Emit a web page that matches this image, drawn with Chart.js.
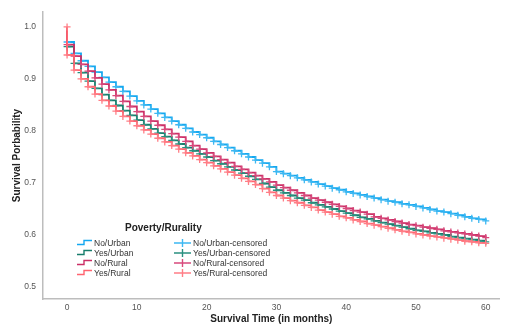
<!DOCTYPE html>
<html>
<head>
<meta charset="utf-8">
<script src="https://cdn.jsdelivr.net/npm/chart.js@4.4.1/dist/chart.umd.min.js"></script>
<style>
  html, body { margin: 0; padding: 0; background: #fff; }
  #wrap { width: 505px; height: 333px; }
</style>
</head>
<body>
<div id="wrap"><canvas id="myChart" width="505" height="333"></canvas></div>
<script>
// survival time in months
const months = [];
for (let m = 0; m <= 60; m++) months.push(m);

const groupNames = ["No/Urban", "Yes/Urban", "No/Rural", "Yes/Rural"];

const noUrban = [0.971, 0.949, 0.935, 0.924, 0.913, 0.903, 0.894, 0.885, 0.876, 0.867,
    0.858, 0.850, 0.842, 0.834, 0.826, 0.819, 0.812, 0.805, 0.798, 0.793,
    0.787, 0.780, 0.774, 0.768, 0.762, 0.756, 0.750, 0.744, 0.738, 0.731,
    0.722, 0.718, 0.714, 0.710, 0.706, 0.702, 0.698, 0.694, 0.690, 0.687,
    0.683, 0.680, 0.677, 0.674, 0.671, 0.668, 0.665, 0.663, 0.660, 0.658,
    0.655, 0.652, 0.649, 0.646, 0.644, 0.641, 0.638, 0.635, 0.632, 0.630, 0.627];

const yesUrban = [0.962, 0.930, 0.912, 0.896, 0.882, 0.870, 0.859, 0.849, 0.839, 0.830,
    0.821, 0.812, 0.804, 0.796, 0.789, 0.782, 0.775, 0.768, 0.762, 0.756,
    0.750, 0.743, 0.737, 0.731, 0.725, 0.719, 0.713, 0.707, 0.699, 0.692,
    0.686, 0.681, 0.676, 0.671, 0.667, 0.662, 0.658, 0.654, 0.650, 0.646,
    0.642, 0.638, 0.634, 0.631, 0.627, 0.624, 0.621, 0.618, 0.615, 0.612,
    0.609, 0.607, 0.604, 0.602, 0.600, 0.597, 0.595, 0.593, 0.591, 0.589, 0.587];

const noRural = [0.966, 0.944, 0.928, 0.915, 0.902, 0.890, 0.879, 0.868, 0.857, 0.847,
    0.837, 0.828, 0.819, 0.811, 0.803, 0.795, 0.788, 0.780, 0.772, 0.765,
    0.758, 0.751, 0.745, 0.739, 0.732, 0.726, 0.720, 0.714, 0.708, 0.702,
    0.696, 0.691, 0.686, 0.681, 0.676, 0.671, 0.667, 0.663, 0.659, 0.655,
    0.651, 0.647, 0.644, 0.640, 0.635, 0.632, 0.629, 0.626, 0.623, 0.620,
    0.618, 0.615, 0.613, 0.611, 0.608, 0.606, 0.604, 0.602, 0.600, 0.598, 0.595];

const yesRural = [0.946, 0.917, 0.900, 0.885, 0.871, 0.859, 0.848, 0.838, 0.828, 0.819,
    0.810, 0.802, 0.794, 0.786, 0.779, 0.772, 0.765, 0.758, 0.752, 0.745,
    0.739, 0.733, 0.727, 0.721, 0.715, 0.709, 0.703, 0.697, 0.689, 0.682,
    0.676, 0.671, 0.666, 0.662, 0.657, 0.653, 0.648, 0.644, 0.640, 0.636,
    0.633, 0.629, 0.626, 0.622, 0.619, 0.616, 0.613, 0.610, 0.607, 0.605,
    0.602, 0.600, 0.598, 0.596, 0.594, 0.592, 0.590, 0.588, 0.587, 0.585, 0.584];

const xTicks = [0, 10, 20, 30, 40, 50, 60];
const yTicks = [0.5, 0.6, 0.7, 0.8, 0.9, 1.0];

const lineColors = ["#14A8F0", "#187D6C", "#CB2F66", "#FF6470"];
const markColors = ["#3DB8F2", "#2A9080", "#D84A7C", "#FF7E86"];

// step curve: start at 1.0, drop at each month
function stepPoints(vals) {
    const pts = [{ x: 0, y: 1.0 }];
    vals.forEach((v, i) => pts.push({ x: months[i], y: v }));
    return pts;
}
function censorPoints(vals, withStart) {
    const pts = withStart ? [{ x: 0, y: 1.0 }] : [];
    vals.forEach((v, i) => pts.push({ x: months[i], y: v }));
    return pts;
}

const series = [noUrban, yesUrban, noRural, yesRural];
const datasets = [];
series.forEach((vals, i) => {
    datasets.push({
        label: groupNames[i],
        data: stepPoints(vals),
        stepped: true,
        borderColor: lineColors[i],
        borderWidth: 1.8,
        pointRadius: 0,
        fill: false,
        order: 10 - i * 2,
    });
    datasets.push({
        label: groupNames[i] + "-censored",
        data: censorPoints(vals, i === 3),
        showLine: false,
        pointStyle: "cross",
        pointRadius: 3.5,
        pointBorderWidth: 1.3,
        pointBorderColor: markColors[i],
        pointBackgroundColor: markColors[i],
        order: 9 - i * 2,
    });
});

// legend drawn by hand, two columns like the original
const legendPlugin = {
    id: "kmLegend",
    afterDraw(chart) {
        const ctx = chart.ctx;
        ctx.save();
        ctx.fillStyle = "#222";
        ctx.font = "bold 10px 'Liberation Sans', Arial, sans-serif";
        ctx.textBaseline = "middle";
        ctx.textAlign = "left";
        ctx.fillText("Poverty/Rurality", 125, 228);

        const rows = [243, 253, 263, 273];
        ctx.font = "8.5px 'Liberation Sans', Arial, sans-serif";
        rows.forEach((yc, i) => {
            // step symbol
            ctx.strokeStyle = lineColors[i];
            ctx.lineWidth = 1.4;
            ctx.beginPath();
            ctx.moveTo(77, yc + 1.5);
            ctx.lineTo(84, yc + 1.5);
            ctx.lineTo(84, yc - 2.5);
            ctx.lineTo(92, yc - 2.5);
            ctx.stroke();
            ctx.fillStyle = "#333";
            ctx.fillText(groupNames[i], 94, yc + 0.5);

            // censored symbol
            ctx.strokeStyle = markColors[i];
            ctx.beginPath();
            ctx.moveTo(174, yc);
            ctx.lineTo(191, yc);
            ctx.moveTo(182.5, yc - 4);
            ctx.lineTo(182.5, yc + 4);
            ctx.stroke();
            ctx.fillText(groupNames[i] + "-censored", 193, yc + 0.5);
        });
        ctx.restore();
    },
};

const config = {
    type: "line",
    data: { datasets: datasets },
    options: {
        responsive: false,
        animation: false,
        events: [],
        layout: { padding: { left: 0, right: 0, top: 9, bottom: 0 } },
        plugins: {
            legend: { display: false },
            tooltip: { enabled: false },
        },
        scales: {
            x: {
                type: "linear",
                min: -3.45,
                max: 62,
                afterBuildTicks: (axis) => {
                    axis.ticks = xTicks.map(v => ({ value: v }));
                },
                afterFit: (axis) => { axis.height = 34; },
                grid: { display: false, drawTicks: false },
                border: { display: true, color: "#BDBDBD", width: 1.5 },
                ticks: {
                    color: "#555",
                    font: { family: "'Liberation Sans', Arial, sans-serif", size: 8.5 },
                    padding: 4,
                    maxRotation: 0,
                    callback: (v) => String(v),
                },
                title: {
                    display: true,
                    text: "Survival Time (in months)",
                    color: "#222",
                    font: { family: "'Liberation Sans', Arial, sans-serif", size: 10, weight: "bold" },
                    padding: { top: 0, bottom: 8 },
                },
            },
            y: {
                type: "linear",
                min: 0.477,
                max: 1.0285,
                afterBuildTicks: (axis) => {
                    axis.ticks = yTicks.map(v => ({ value: v }));
                },
                afterFit: (axis) => { axis.width = 43; },
                grid: { display: false, drawTicks: false },
                border: { display: true, color: "#BDBDBD", width: 1.5 },
                ticks: {
                    color: "#555",
                    font: { family: "'Liberation Sans', Arial, sans-serif", size: 8.5 },
                    padding: 7,
                    callback: (v) => v.toFixed(1),
                },
                title: {
                    display: true,
                    text: "Survival Porbability",
                    color: "#222",
                    font: { family: "'Liberation Sans', Arial, sans-serif", size: 10, weight: "bold" },
                    padding: { top: 11, bottom: 0 },
                },
            },
        },
    },
    plugins: [legendPlugin],
};

new Chart(document.getElementById("myChart"), config);
</script>
</body>
</html>
